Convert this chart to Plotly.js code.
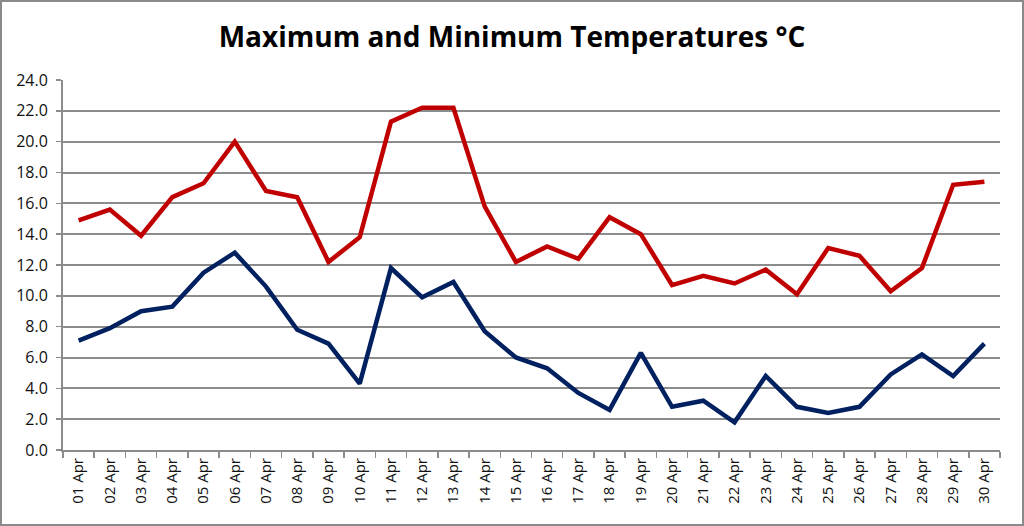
<!DOCTYPE html>
<html>
<head>
<meta charset="utf-8">
<script src="https://cdn.plot.ly/plotly-3.0.1.min.js"></script>
<style>
  html, body { margin: 0; padding: 0; background: #fff; }
  #wrap { position: relative; width: 1024px; height: 526px; }
  #chart { width: 1024px; height: 526px; }
  #frame { position: absolute; left: 0; top: 0; width: 1020px; height: 522px;
           border: 2px solid #8a8a8a; pointer-events: none; }
</style>
</head>
<body>
<div id="wrap">
  <div id="chart"></div>
  <div id="frame"></div>
</div>
<script>
// Daily temperatures for April (°C)
const days = ["01 Apr","02 Apr","03 Apr","04 Apr","05 Apr","06 Apr","07 Apr","08 Apr","09 Apr","10 Apr",
              "11 Apr","12 Apr","13 Apr","14 Apr","15 Apr","16 Apr","17 Apr","18 Apr","19 Apr","20 Apr",
              "21 Apr","22 Apr","23 Apr","24 Apr","25 Apr","26 Apr","27 Apr","28 Apr","29 Apr","30 Apr"];
const maxTemp = [14.9, 15.6, 13.9, 16.4, 17.3, 20.0, 16.8, 16.4, 12.2, 13.8,
                 21.3, 22.2, 22.2, 15.8, 12.2, 13.2, 12.4, 15.1, 14.0, 10.7,
                 11.3, 10.8, 11.7, 10.1, 13.1, 12.6, 10.3, 11.8, 17.2, 17.4];
const minTemp = [7.1, 7.9, 9.0, 9.3, 11.5, 12.8, 10.6, 7.8, 6.9, 4.3,
                 11.8, 9.9, 10.9, 7.7, 6.0, 5.3, 3.7, 2.6, 6.3, 2.8,
                 3.2, 1.8, 4.8, 2.8, 2.4, 2.8, 4.9, 6.2, 4.8, 6.9];
const chartTitle = "Maximum and Minimum Temperatures °C";

const traces = [
  { x: days, y: maxTemp, type: "scatter", mode: "lines", name: "Maximum",
    line: { color: "#c00000", width: 4.5, shape: "linear" } },
  { x: days, y: minTemp, type: "scatter", mode: "lines", name: "Minimum",
    line: { color: "#002060", width: 4.5, shape: "linear" } }
];

const gridGrey = "#8c8c8c";
const layout = {
  width: 1024, height: 526,
  margin: { l: 63, r: 24, t: 80, b: 76 },
  paper_bgcolor: "#ffffff", plot_bgcolor: "#ffffff",
  showlegend: false,
  title: { text: "<b>" + chartTitle + "</b>", x: 0.5, xanchor: "center", y: 0.93, yanchor: "middle",
           font: { family: "Open Sans, sans-serif", size: 28, color: "#000" } },
  xaxis: {
    type: "category", range: [-0.5, 29.5], fixedrange: true,
    showgrid: false, showline: true, linecolor: gridGrey, linewidth: 2,
    ticks: "outside", tickson: "boundaries", ticklen: 6, tickcolor: gridGrey, tickwidth: 1.5,
    tickangle: -90, tickfont: { family: "Open Sans, sans-serif", size: 15, color: "#111" }
  },
  yaxis: {
    range: [0, 24], dtick: 2, tick0: 0, tickformat: ".1f", fixedrange: true,
    showgrid: true, gridcolor: gridGrey, gridwidth: 2, zeroline: false,
    showline: true, linecolor: gridGrey, linewidth: 2,
    ticks: "outside", ticklen: 5, tickcolor: gridGrey, tickwidth: 1.5,
    ticklabelstandoff: 5,
    tickfont: { family: "Open Sans, sans-serif", size: 16, color: "#111" }
  }
};

Plotly.newPlot("chart", traces, layout, { displayModeBar: false, staticPlot: true });
</script>
</body>
</html>
